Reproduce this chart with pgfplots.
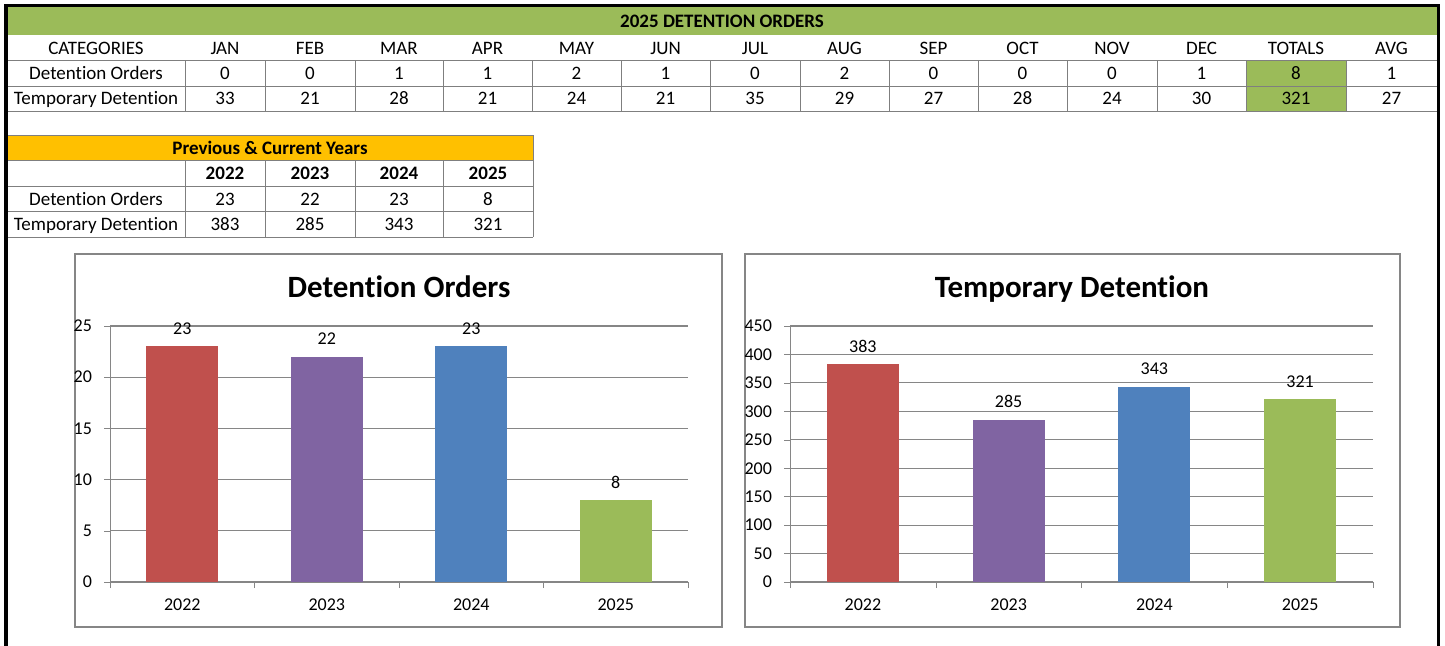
\documentclass[border=0pt]{standalone}
\usepackage{pgfplots}
\pgfplotsset{compat=1.18}
\usepackage{fontspec}
\setmainfont{Carlito}[Ligatures=NoCommon]
\definecolor{xred}{HTML}{C0504D}
\definecolor{xpurple}{HTML}{8064A2}
\definecolor{xblue}{HTML}{4F81BD}
\definecolor{xgreen}{HTML}{9BBB59}
\definecolor{xorange}{HTML}{FFC000}
\definecolor{gridgray}{HTML}{868686}
\definecolor{linegray}{HTML}{7F7F7F}
\newcommand{\tf}{\fontsize{9.5}{11}\selectfont}
\pgfplotsset{
  chartstyle/.style={
    scale only axis,
    anchor=south west,
    height=128pt,
    ymin=0,
    xmin=-0.5, xmax=3.5,
    xtick={0,1,2,3},
    xticklabels={2022,2023,2024,2025},
    minor xtick={-0.5,0.5,1.5,2.5,3.5},
    major x tick style={draw=none},
    minor x tick style={gridgray},
    minor tick length=3pt,
    major tick length=3pt,
    y tick style={gridgray},
    tick align=outside,
    xtick pos=bottom, ytick pos=left,
    axis x line*=bottom, axis y line*=left,
    axis line style={gridgray,-},
    ymajorgrids,
    grid style={gridgray, line width=0.55pt},
    ticklabel style={font=\fontsize{9}{11}\selectfont},
    /pgf/number format/assume math mode=true,
    yticklabel style={xshift=-2.5pt},
    xticklabel style={yshift=-2pt},
    nodes near coords,
    every node near coord/.append style={font=\fontsize{9}{11}\selectfont, anchor=center, yshift=9pt, black},
    clip=false,
  },
  barst/.style={ybar, bar width=36pt, bar shift=0pt, draw=none, fill=#1},
}
\tikzset{cell/.style={font=\tf, anchor=base, yshift=-3pt}}
\begin{document}
\begin{tikzpicture}
\begin{scope}[x=0.5pt,y=-0.5pt]
% ---- table 1 ----
\fill[xgreen] (7,7) rectangle (1437,35);
\fill[xgreen] (1246,60) rectangle (1346,111);
\node[cell, font=\tf\bfseries] at (722,21) {2025 DETENTION ORDERS};
\foreach \yy in {60,86,111} \draw[linegray, line width=0.5pt] (7,\yy) -- (1437,\yy);
\foreach \xx in {185,265,355,443,532,621,710,800,889,978,1067,1157,1246,1346,1437}
  \draw[linegray, line width=0.5pt] (\xx,60) -- (\xx,111);
\node[cell] at (96,48) {CATEGORIES};
\node[cell] at (96,73) {Detention Orders};
\node[cell] at (96,98.5) {Temporary Detention};
\foreach \c/\m/\a/\b in {225/JAN/0/33, 310/FEB/0/21, 399/MAR/1/28, 487.5/APR/1/21, 576.5/MAY/2/24, 665.5/JUN/1/21, 755/JUL/0/35, 844.5/AUG/2/29, 933.5/SEP/0/27, 1022.5/OCT/0/28, 1112/NOV/0/24, 1201.5/DEC/1/30, 1296/TOTALS/8/321, 1391.5/AVG/1/27}{
  \node[cell] at (\c,48) {\m};
  \node[cell] at (\c,73) {\a};
  \node[cell] at (\c,98.5) {\b};
}
% ---- table 2 ----
\fill[xorange] (7,135) rectangle (533,160);
\node[cell, font=\tf\bfseries] at (270,148) {Previous \& Current Years};
\foreach \yy in {135,160,186,211,237} \draw[linegray, line width=0.5pt] (7,\yy) -- (533,\yy);
\foreach \xx in {185,265,355,443} \draw[linegray, line width=0.5pt] (\xx,160) -- (\xx,237);
\draw[linegray, line width=0.5pt] (533,135) -- (533,237);
\node[cell] at (96,199) {Detention Orders};
\node[cell] at (96,224.5) {Temporary Detention};
\foreach \c/\yr/\a/\b in {225/2022/23/383, 310/2023/22/285, 399/2024/23/343, 488/2025/8/321}{
  \node[cell, font=\tf\bfseries] at (\c,173.5) {\yr};
  \node[cell] at (\c,199) {\a};
  \node[cell] at (\c,224.5) {\b};
}
% ---- chart frames ----
\draw[gridgray, line width=0.6pt] (75,254) rectangle (722,627);
\draw[gridgray, line width=0.6pt] (745,254) rectangle (1400,627);
\node[font=\fontsize{15.5}{18}\selectfont\bfseries, anchor=base] at (399,297) {Detention Orders};
\node[font=\fontsize{15.5}{18}\selectfont\bfseries, anchor=base] at (1072,297) {Temporary Detention};
% ---- outer frame ----
\draw[black, line width=1.6pt] (6,660) -- (6,5.5) -- (1438.5,5.5) -- (1438.5,660);
\end{scope}
% ---- chart 1 ----
\begin{axis}[chartstyle, at={(55pt,-291pt)}, width=289pt, ymax=25, ytick={0,5,10,15,20,25}]
\addplot[barst=xred] coordinates {(0,23)};
\addplot[barst=xpurple] coordinates {(1,22)};
\addplot[barst=xblue] coordinates {(2,23)};
\addplot[barst=xgreen] coordinates {(3,8)};
\end{axis}
% ---- chart 2 ----
\begin{axis}[chartstyle, at={(395pt,-291pt)}, width=291.5pt, ymax=450, ytick={0,50,...,450}]
\addplot[barst=xred] coordinates {(0,383)};
\addplot[barst=xpurple] coordinates {(1,285)};
\addplot[barst=xblue] coordinates {(2,343)};
\addplot[barst=xgreen] coordinates {(3,321)};
\end{axis}
\pgfresetboundingbox
\useasboundingbox (0pt,0pt) rectangle (722.5pt,-322.5pt);
\end{tikzpicture}
\end{document}
